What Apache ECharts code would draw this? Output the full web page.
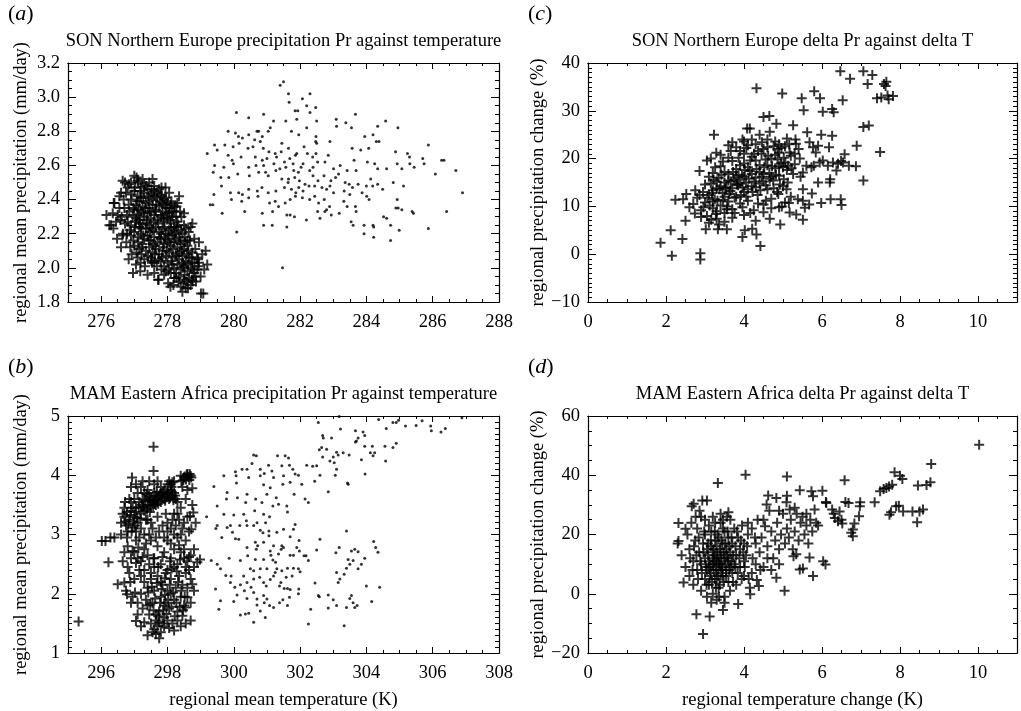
<!DOCTYPE html>
<html lang="en">
  <head>
    <meta charset="UTF-8" />
    <title>regional precipitation against temperature</title>
    <script src="https://cdn.jsdelivr.net/npm/echarts@6/dist/echarts.min.js"></script>
    <style>
      html, body { margin: 0; background: #fff; }
      #main { width: 1021px; height: 711px; }
    </style>
  </head>
  <body>
    <div id="main"></div>
    <script>
      // (a) SON Northern Europe: Pr against T, crosses and dots
      var sonTempCross = [
        [276.72,2.5],[276.84,2.49],[277.07,2.53],[277.1,2.51],[276.16,2.31],[276.25,2.25],[276.37,2.23],[276.38,2.38],
        [276.64,2.19],[276.6,2.44],[276.76,2.15],[276.96,1.97],[277.19,2.03],[277.32,2.01],[277.53,2.03],[277.72,1.93],
        [277.94,2.47],[278.09,1.89],[278.27,1.94],[278.35,2.42],[278.27,2.36],[278.42,2.3],[278.45,1.86],[278.58,1.92],
        [278.6,2.16],[278.81,2.17],[278.84,2.11],[278.89,2.06],[279.11,1.99],[278.76,1.92],[278.86,1.92],[279.08,1.85],
        [278.64,2.21],[277.17,2.26],[276.3,2.25],[276.4,2.38],[276.65,2.51],[277.0,2.54],[279.01,1.85],[277.73,1.93],
        [277.0,2.45],[277.1,2.42],[277.2,2.47],[277.3,2.44],[277.4,2.46],[277.5,2.43],[277.6,2.45],[277.7,2.41],
        [277.8,2.43],[277.9,2.4],[278.0,2.38],[278.1,2.37],[276.9,2.4],[277.05,2.37],[277.15,2.39],[277.25,2.36],
        [277.35,2.38],[277.45,2.35],[277.55,2.37],[277.65,2.34],[277.75,2.36],[277.85,2.33],[277.95,2.35],[278.05,2.32],
        [278.15,2.3],[276.85,2.33],[276.95,2.3],[277.0,2.34],[277.1,2.31],[277.2,2.33],[277.3,2.3],[277.4,2.32],
        [277.5,2.29],[277.6,2.31],[277.7,2.28],[277.8,2.3],[277.9,2.27],[278.0,2.29],[278.1,2.26],[278.2,2.24],
        [278.3,2.27],[276.8,2.27],[276.9,2.25],[277.05,2.27],[277.15,2.24],[277.25,2.26],[277.35,2.23],[277.45,2.25],
        [277.55,2.22],[277.65,2.24],[277.75,2.21],[277.85,2.23],[277.95,2.2],[278.05,2.22],[278.15,2.19],[278.25,2.21],
        [278.35,2.18],[278.45,2.2],[276.9,2.19],[277.0,2.21],[277.1,2.18],[277.2,2.2],[277.3,2.17],[277.4,2.19],
        [277.5,2.16],[277.6,2.18],[277.7,2.15],[277.8,2.17],[277.9,2.14],[278.0,2.16],[278.1,2.13],[278.2,2.15],
        [278.3,2.12],[278.4,2.14],[278.5,2.11],[278.6,2.13],[277.0,2.13],[277.15,2.11],[277.25,2.14],[277.35,2.1],
        [277.45,2.12],[277.55,2.09],[277.65,2.11],[277.75,2.08],[277.85,2.1],[277.95,2.07],[278.05,2.09],[278.15,2.06],
        [278.25,2.08],[278.35,2.05],[278.45,2.07],[278.55,2.04],[278.65,2.06],[278.75,2.03],[277.1,2.06],[277.3,2.05],
        [277.5,2.06],[277.6,2.03],[277.8,2.04],[277.9,2.01],[278.0,2.03],[278.2,2.0],[278.3,2.02],[278.4,1.99],
        [278.5,2.01],[278.6,1.98],[278.7,2.0],[278.8,1.97],[278.9,1.99],[277.9,1.96],[278.1,1.97],[278.2,1.94],
        [278.35,1.95],[278.5,1.93],[278.65,1.94],[278.7,1.9],[278.55,1.88],[277.3,2.49],[277.45,2.5],[277.6,2.48],
        [277.75,2.46],[277.2,2.41],[277.55,2.4],[277.85,2.38],[278.2,2.33],[278.5,2.25],[278.7,2.24],[278.75,2.09],
        [278.95,2.03],
        [277.02,2.47],[277.18,2.45],[277.36,2.48],[277.52,2.46],[277.68,2.44],[277.12,2.5],[277.44,2.42],[277.83,2.42],
        [276.92,2.43],[277.08,2.39],[277.27,2.41],[277.42,2.39],[277.61,2.42],[277.78,2.39],[277.96,2.41],[278.12,2.39],
        [276.83,2.37],[277.33,2.35],[277.66,2.37],[277.92,2.37],[278.06,2.35],[278.22,2.36],[276.78,2.31],[276.97,2.35],
        [277.13,2.34],[277.28,2.32],[277.47,2.33],[277.63,2.33],[277.82,2.31],[277.98,2.32],[278.14,2.33],[278.26,2.3],
        [278.38,2.33],[277.06,2.29],[277.37,2.28],[277.58,2.27],[277.88,2.29],[278.08,2.28],[278.33,2.25],[276.86,2.22],
        [277.02,2.24],[277.21,2.23],[277.38,2.26],[277.52,2.23],[277.72,2.26],[277.91,2.24],[278.11,2.23],[278.28,2.24],
        [278.41,2.22],[278.55,2.23],[277.14,2.28],[277.47,2.21],[277.81,2.2],[278.02,2.19],[278.2,2.2],[278.52,2.18],
        [276.97,2.16],[277.12,2.15],[277.27,2.19],[277.44,2.16],[277.63,2.13],[277.76,2.18],[277.93,2.17],[278.07,2.15],
        [278.24,2.17],[278.38,2.16],[278.53,2.15],[278.68,2.16],[277.22,2.12],[277.57,2.14],[277.87,2.12],[278.16,2.11],
        [278.44,2.1],[278.63,2.1],[277.07,2.09],[277.22,2.08],[277.41,2.07],[277.62,2.08],[277.73,2.05],[277.98,2.1],
        [278.12,2.04],[278.28,2.07],[278.46,2.03],[278.58,2.08],[278.72,2.06],[278.82,2.03],[277.52,2.04],[277.84,2.06],
        [278.36,2.09],[278.92,2.05],[277.68,2.01],[277.82,1.99],[278.04,1.99],[278.15,2.02],[278.26,1.97],[278.45,2.0],
        [278.62,2.02],[278.76,1.99],[278.93,2.01],[277.95,1.98],[278.33,1.92],[278.52,1.96],[278.84,1.95],[278.02,1.91],
        [278.18,1.9],[278.4,1.89],[278.62,1.88],[278.48,1.91],[278.74,1.93],
        [276.55,2.35],[276.62,2.3],[276.68,2.4],[276.72,2.26],[276.58,2.28],[276.75,2.44],[276.66,2.2],[276.8,2.47],
        [276.5,2.31],[276.45,2.27],[276.7,2.35],[276.78,2.2],[276.88,2.12],[276.83,2.05],[276.92,2.08],[277.05,2.02],
        [277.18,1.98],[277.4,1.96],[277.6,1.97],[276.55,2.42],[276.9,2.5],[277.25,2.52],[277.55,2.52],[277.82,2.47],
        [278.05,2.44],[278.3,2.38],[278.5,2.32],[278.75,2.26],[278.95,2.15],[279.05,2.08],[279.15,2.1],[279.2,2.02],
        [279.0,1.95],[276.35,2.32],[276.48,2.17],[276.6,2.12]
      ];
      var sonTempDots = [
        [281.4,3.07],[281.5,3.09],[281.65,3.02],[281.67,2.97],[282.07,2.99],[282.3,3.02],[282.2,2.95],[282.47,2.94],
        [281.93,2.92],[281.85,2.92],[280.08,2.91],[280.9,2.9],[280.45,2.88],[283.67,2.9],[283.09,2.87],[282.3,2.91],
        [281.2,2.86],[281.57,2.86],[281.9,2.87],[284.58,2.86],[282.5,2.86],[283.38,2.85],[283.55,2.82],[283.1,2.83],
        [284.34,2.83],[284.95,2.82],[281.1,2.82],[280.7,2.8],[281.04,2.8],[280.75,2.8],[279.83,2.8],[280.05,2.79],
        [282.2,2.82],[281.96,2.78],[281.74,2.8],[282.48,2.77],[283.95,2.77],[284.2,2.78],[280.14,2.77],[280.26,2.76],
        [280.45,2.78],[280.63,2.75],[280.86,2.77],[280.8,2.74],[280.16,2.73],[279.42,2.72],[279.73,2.72],[279.98,2.71],
        [281.45,2.73],[281.65,2.7],[282.12,2.71],[282.47,2.74],[282.5,2.73],[282.9,2.74],[283.57,2.7],[283.83,2.69],
        [284.07,2.7],[284.3,2.74],[284.38,2.74],[285.87,2.72],[279.2,2.67],[279.5,2.69],[280.43,2.7],[280.58,2.71],
        [280.89,2.7],[281.06,2.68],[281.25,2.67],[281.29,2.65],[281.43,2.68],[281.86,2.66],[281.9,2.67],[282.48,2.67],
        [282.22,2.67],[282.38,2.65],[282.85,2.66],[285.24,2.67],[285.3,2.65],[284.88,2.68],[279.83,2.66],[279.95,2.63],
        [280.22,2.65],[280.65,2.65],[280.86,2.63],[281.0,2.64],[281.53,2.62],[281.69,2.64],[281.79,2.61],[282.09,2.61],
        [282.53,2.62],[282.75,2.62],[283.63,2.63],[284.03,2.62],[285.7,2.64],[286.27,2.63],[286.34,2.63],[285.74,2.61],
        [284.25,2.61],[284.93,2.61],[285.31,2.61],[279.42,2.6],[279.7,2.59],[279.99,2.61],[280.45,2.59],[280.67,2.6],
        [280.9,2.6],[281.21,2.61],[281.39,2.58],[281.57,2.59],[281.81,2.57],[281.95,2.56],[282.03,2.59],[282.29,2.57],
        [282.39,2.59],[283.01,2.58],[283.21,2.6],[283.42,2.57],[283.69,2.57],[284.34,2.58],[284.61,2.58],[285.07,2.58],
        [285.44,2.59],[286.08,2.55],[286.7,2.57],[286.9,2.44],[279.38,2.56],[279.61,2.53],[279.85,2.53],[280.12,2.55],
        [280.47,2.54],[280.75,2.56],[280.96,2.56],[281.04,2.54],[281.27,2.57],[281.45,2.52],[281.65,2.52],[281.84,2.53],
        [281.98,2.51],[282.15,2.49],[282.39,2.54],[282.54,2.51],[282.72,2.54],[282.93,2.51],[283.07,2.53],[283.16,2.55],
        [283.36,2.5],[283.48,2.49],[283.75,2.49],[284.0,2.48],[284.13,2.52],[284.34,2.49],[284.49,2.46],[284.81,2.5],
        [285.12,2.48],[279.4,2.43],[279.37,2.37],[279.29,2.37],[279.63,2.48],[279.9,2.44],[280.15,2.44],[280.26,2.43],
        [280.45,2.46],[280.71,2.45],[280.85,2.47],[281.04,2.44],[281.27,2.45],[281.53,2.47],[281.64,2.5],[281.74,2.46],
        [281.87,2.44],[281.96,2.47],[282.09,2.45],[282.27,2.48],[282.44,2.48],[282.66,2.47],[282.8,2.46],[282.9,2.48],
        [283.01,2.44],[283.33,2.45],[283.5,2.43],[283.58,2.47],[283.87,2.44],[284.01,2.42],[284.08,2.4],[284.19,2.48],
        [284.93,2.4],[279.93,2.4],[280.24,2.39],[280.45,2.41],[280.73,2.42],[281.08,2.38],[281.25,2.39],[281.35,2.36],
        [281.55,2.38],[281.7,2.4],[281.86,2.42],[282.07,2.41],[282.29,2.4],[282.44,2.42],[282.56,2.38],[282.73,2.4],
        [282.89,2.36],[283.32,2.39],[283.42,2.36],[283.67,2.36],[284.89,2.35],[284.96,2.35],[285.07,2.34],[285.38,2.33],
        [285.42,2.32],[279.65,2.32],[280.33,2.33],[280.86,2.32],[281.17,2.33],[281.6,2.31],[281.7,2.31],[281.83,2.3],
        [282.19,2.28],[282.53,2.33],[282.75,2.33],[282.8,2.34],[282.6,2.29],[282.94,2.31],[283.18,2.32],[283.69,2.33],
        [284.52,2.3],[284.61,2.29],[286.42,2.33],[283.54,2.27],[283.6,2.25],[280.9,2.25],[281.16,2.25],[281.6,2.24],
        [283.93,2.25],[284.2,2.25],[284.22,2.24],[284.73,2.25],[284.99,2.22],[285.87,2.23],[280.09,2.21],[283.93,2.2],
        [284.22,2.18],[284.73,2.16],[281.47,2.0]
      ];

      // (c) SON Northern Europe: delta Pr against delta T
      var sonDeltaCross = [
        [1.86,2.4],[2.12,5.0],[2.15,-0.3],[2.42,3.2],[2.24,11.4],[2.44,11.5],[2.52,12.6],[2.5,7.0],[2.74,8.5],[2.88,0.2],
        [2.88,-1.1],[2.86,17.4],[3.23,25],[3.29,21.2],[3.15,20],[4.32,34.7],[4.98,33.6],[5.48,32.6],[5.53,30.1],[5.8,34.1],
        [5.95,32.6],[6.02,29.8],[6.26,30.4],[6.3,29.7],[6.53,32.2],[6.47,38.3],[6.72,36.7],[7.06,38.3],[7.17,35.6],[7.29,37.5],
        [7.41,32.6],[7.52,32.8],[7.59,35.6],[7.65,36.1],[7.63,35.2],[7.68,33.2],[7.82,33.1],[7.71,32.4],[7.06,26.6],[7.2,26.9],
        [7.49,21.4],[7.06,15.4],[6.87,18.4],[6.89,22.7],[6.69,18.5],[6.58,20.9],[6.49,19.5],[6.48,11.5],[6.5,10.3],[6.22,11.5],
        [6.21,15.7],[6.26,24.8],[6.18,22.4],[5.98,25.0],[5.94,19.2],[5.9,15.0],[5.98,10.7],[5.67,10.4],[5.74,12.7],[5.51,7.2],
        [5.56,9.7],[5.51,13.6],[5.62,25.5],[5.33,23.1],[5.26,27.0],[5.15,10.7],[5.34,8.3],[4.93,6.2],[4.97,10.0],[4.66,7.4],
        [4.83,27.3],[4.65,28.9],[4.5,28.7],[4.15,26.3],[4.08,26.3],[4.42,1.7],[4.32,4.1],[4.21,5.3],[4.02,5.0],[3.96,3.6],
        [3.56,5.2],[3.33,5.2],[3.02,5.2],[5.32,24],[5.68,23.4],[5.77,22.4],[5.84,21.3],[5.9,22.7],[5.51,17.1],[5.6,18.5],
        [5.73,18.2],[5.79,18.5],[6.02,19.6],[6.15,18.5],[6.28,19.2],[6.37,17.5],[6.41,18.9],[6.54,19.2],[5.43,20],[5.38,11.5],
        [5.51,11.2],[5.0,18.2],[5.13,18.5],[5.17,21.3],[5.02,15.7],[5.09,13.6],[4.88,12.6],[4.9,9.8],[5.05,10.8],[5.17,8.7],
        [6.2,15],[2.7,10.5],[2.8,11.8],[2.9,9.2],[2.95,13.0],[3.0,10.8],[3.05,8.0],[3.1,12.4],[3.15,14.8],[3.2,9.6],
        [3.2,17.0],[3.25,11.5],[3.3,13.8],[3.3,7.4],[3.35,16.0],[3.4,10.2],[3.4,18.4],[3.45,12.8],[3.5,15.0],[3.5,8.6],
        [3.55,14.0],[3.6,11.0],[3.6,16.8],[3.65,13.2],[3.7,19.5],[3.7,9.4],[3.75,15.6],[3.8,12.0],[3.8,17.8],[3.85,14.4],
        [3.9,21.6],[3.9,10.6],[3.95,16.4],[4.0,13.0],[4.0,19.0],[4.05,15.0],[4.1,22.8],[4.1,11.2],[4.15,17.4],[4.2,14.2],
        [4.2,20.4],[4.25,9.2],[4.3,16.0],[4.3,23.0],[4.35,12.4],[4.4,18.6],[4.4,14.8],[4.45,21.0],[4.5,10.4],[4.5,16.8],
        [4.55,19.8],[4.6,13.6],[4.6,22.4],[4.65,17.0],[4.7,11.6],[4.7,20.0],[4.75,15.4],[4.8,23.6],[4.8,18.0],[4.85,13.0],
        [4.9,21.2],[4.9,16.4],[4.95,19.0],[5.0,14.2],[5.05,22.6],[5.1,17.6],[5.2,20.6],[5.2,12.0],[5.3,18.8],[5.4,22.0],
        [5.45,16.2],[3.0,14.6],[3.1,16.2],[3.2,13.4],[3.3,15.2],[3.4,14.2],[3.5,12.0],[3.5,17.2],[3.6,15.4],[3.7,13.8],
        [3.8,16.0],[3.9,14.8],[3.9,18.6],[4.0,16.2],[4.0,21.0],[4.1,13.6],[4.1,18.2],[4.2,16.8],[4.3,14.0],[4.3,19.6],
        [4.4,17.2],[4.5,15.2],[4.5,22.0],[4.6,18.6],[4.7,16.2],[4.8,20.8],[4.9,18.4],[3.6,20.2],[3.8,22.4],[4.0,23.6],
        [4.2,24.0],[4.4,25.0],[3.3,9.0],[3.5,6.8],[3.7,7.6],[4.0,8.2],[4.3,7.0],[4.5,8.8],[4.7,9.6],[3.1,6.6],
        [2.9,7.8],[3.2,11.0],[2.6,9.8],[2.75,13.4],[3.05,19.6],[3.4,20.8],[3.6,22.8],[3.7,23.4],[4.6,24.0],[4.9,23.0],
        [5.1,24.2],[5.3,21.0],
        [3.12,10.2],[3.18,12.8],[3.22,15.6],[3.28,8.4],[3.32,11.2],[3.37,13.6],[3.42,16.6],[3.46,11.4],[3.52,13.8],[3.57,10.0],
        [3.62,12.6],[3.66,15.2],[3.72,17.2],[3.76,11.8],[3.82,14.6],[3.86,16.6],[3.92,12.4],[3.96,14.0],[4.02,17.6],[4.06,12.0],
        [4.12,15.8],[4.16,19.6],[4.22,13.0],[4.26,15.2],[4.32,17.8],[4.36,21.6],[4.42,13.4],[4.46,16.2],[4.52,18.2],[4.56,14.4],
        [4.62,20.6],[4.66,15.8],[4.72,18.4],[4.76,22.6],[4.82,16.6],[4.86,19.8],[4.92,14.6],[4.96,22.2],[5.02,20.2],[5.12,15.0],
        [5.22,18.0],[3.46,19.4],[3.66,21.6],[3.86,20.2],[4.06,22.2],[4.26,21.0],[3.16,7.2],[3.36,6.2],[3.56,9.4],[3.76,8.6],
        [3.96,9.8],[4.16,8.6],[4.36,10.6],[4.56,11.2],[4.76,13.8],[3.26,18.2],[3.06,11.8],[2.96,9.8],[2.86,12.4],[3.96,24.0],
        [4.46,23.4],[4.66,25.6],[4.86,22.0],[5.06,19.2],[5.16,23.0],[5.26,16.8]
      ];

      // (b) MAM Eastern Africa: Pr against T, crosses and dots
      var mamTempCross = [
        [295.32,1.53],[296.22,2.53],[296.02,2.89],[296.13,2.89],[296.28,2.95],[296.4,2.95],[296.5,2.16],[296.7,2.19],
        [296.78,1.99],[297.05,1.54],[297.58,4.48],[297.58,4.07],[296.93,3.96],[297.25,3.9],[298.05,3.9],[298.15,3.88],
        [298.4,3.99],[298.5,3.96],[298.6,4.02],[298.7,3.99],[298.75,3.78],[298.68,3.31],[298.72,3.09],[298.78,3.37],
        [298.98,2.58],[298.9,2.53],[298.75,2.16],[298.6,1.94],[298.55,1.77],[298.45,1.63],[298.2,1.38],[297.65,1.32],
        [297.4,1.3],[297.3,1.52],[296.7,3.3],[296.75,3.15],[296.8,3.05],[296.85,3.25],[296.9,3.4],[296.95,3.12],
        [297.0,3.3],[297.05,3.45],[297.1,3.2],[297.15,3.55],[297.2,3.35],[297.25,3.6],[297.3,3.4],[297.35,3.25],
        [297.4,3.5],[297.45,3.65],[297.5,3.45],[297.55,3.55],[297.6,3.7],[297.65,3.5],[297.7,3.6],[297.75,3.65],
        [297.8,3.55],[297.85,3.7],[297.9,3.6],[297.95,3.65],[298.0,3.7],[298.05,3.6],[298.1,3.75],[298.15,3.65],
        [298.2,3.7],[298.25,3.6],[298.3,3.55],[298.0,3.85],[297.8,3.8],[297.2,3.8],[297.1,3.7],[297.0,3.6],
        [296.9,3.8],[297.3,3.0],[297.5,3.2],[297.7,3.3],[296.8,2.8],[296.9,3.55],[297.4,3.75],[298.4,3.45],
        [298.2,3.35],[298.6,3.3],[298.55,3.6],[298.45,3.8],[297.05,2.9],[296.7,3.45],[296.6,3.0],[296.6,3.2],
        [297.0,2.7],[297.1,2.6],[297.2,2.55],[297.3,2.75],[297.4,2.65],[297.5,2.9],[297.6,2.6],[297.7,2.8],
        [297.8,2.5],[297.9,2.7],[298.0,2.9],[298.1,2.6],[298.2,2.75],[298.3,2.5],[298.4,2.7],[298.5,2.6],
        [298.6,2.55],[298.7,2.65],[298.8,2.45],[297.15,2.95],[297.45,3.0],[297.75,3.05],[298.0,3.05],[298.3,2.95],
        [296.9,2.6],[296.8,2.45],[297.2,2.3],[297.5,2.35],[297.9,2.95],[298.2,3.0],[297.2,2.0],[297.25,1.75],
        [297.3,2.2],[297.35,1.9],[297.4,2.1],[297.45,1.65],[297.5,2.25],[297.55,1.85],[297.6,2.05],[297.65,1.55],
        [297.7,2.3],[297.75,1.7],[297.8,1.95],[297.85,2.15],[297.9,1.6],[297.95,1.85],[298.0,2.4],[298.0,2.05],
        [298.05,1.75],[298.1,2.25],[298.15,1.5],[298.2,1.9],[298.25,2.1],[298.3,1.7],[298.35,2.3],[298.4,1.95],
        [298.45,2.15],[298.5,1.8],[298.55,2.35],[298.6,2.1],[297.6,1.4],[297.8,1.35],[297.7,1.45],[297.9,1.8],
        [298.0,1.55],[297.5,1.5],[297.4,1.8],[297.3,2.4],[297.6,2.45],[297.8,2.2],[298.1,2.0],[298.2,2.45],
        [298.3,1.55],[298.4,1.45],[297.75,1.25],[297.0,2.25],[296.95,1.95],[297.1,1.85],[298.65,2.4],[298.7,1.85],
        [297.85,1.5],[297.95,2.35],
        [296.82,3.18],[296.88,3.33],[296.98,3.22],[297.03,3.38],[297.08,3.28],[297.13,3.46],[297.18,3.27],[297.22,3.5],
        [297.28,3.47],[297.33,3.58],[297.38,3.42],[297.43,3.56],[297.47,3.38],[297.52,3.62],[297.57,3.48],[297.62,3.58],
        [297.67,3.66],[297.72,3.52],[297.78,3.68],[297.83,3.62],[297.88,3.72],[297.93,3.57],[297.98,3.63],[298.03,3.68],
        [298.08,3.62],[298.13,3.72],[298.18,3.58],[298.23,3.66],[297.68,3.72],[297.92,3.76],[298.12,3.8],[297.48,3.58],
        [297.25,3.45],[297.02,3.15],[296.73,3.22],[296.78,3.38],[296.92,3.05],[297.37,3.68],[297.6,3.52],
        [298.52,3.98],[298.58,4.01],[298.63,3.97],[298.67,4.02],[298.72,3.96],[298.56,3.93],[298.66,3.92],[298.48,3.92],
        [298.42,3.9],[298.2,3.9],[298.1,3.85],
        [297.42,2.02],[297.48,1.82],[297.53,2.12],[297.58,1.72],[297.63,1.92],[297.68,2.18],[297.72,1.62],[297.78,1.85],
        [297.82,2.08],[297.87,1.72],[297.92,1.98],[297.97,1.66],[298.02,1.9],[298.07,2.15],[298.12,1.78],[298.17,2.02],
        [298.22,1.62],[298.27,1.85],[298.32,2.2],[298.37,1.78],[298.42,2.05],[298.47,1.72],[298.52,1.95],[298.28,2.38],
        [298.12,2.42],[297.92,2.26],[297.72,2.45],[297.58,2.6],[297.85,2.62],[298.08,2.55],[298.38,2.58],[298.55,2.45],
        [298.65,2.62],[297.65,1.65],[297.75,1.52],[297.9,1.45],[298.05,1.42],[297.55,1.35],
        [296.95,2.72],[297.05,2.52],[297.12,2.78],[297.25,2.62],[297.35,2.85],[297.45,2.5],[297.02,2.02],[297.15,2.4],
        [296.88,2.2],
        [298.1,3.1],[298.25,3.15],[298.35,3.25],[298.45,3.1],[298.5,3.2],[298.3,3.35],[298.15,3.25],[298.0,3.2],
        [297.85,3.15],[297.95,3.35],[298.4,3.0],[298.55,2.9],[298.65,3.05],[298.5,2.75],[298.35,2.82],[298.1,2.85],
        [297.65,2.95],[297.55,3.1],[297.4,3.25],[297.2,3.1],[297.05,3.05],[296.95,3.45],[296.85,3.6],[296.72,3.55],
        [296.65,3.35],[296.78,2.95],[296.7,2.7],[296.65,2.55],[296.85,2.35],[296.75,2.05],[296.9,1.85],[297.1,1.65],
        [297.2,1.45],[298.7,2.25],[298.8,2.05],[298.7,1.55],[298.55,1.5],[298.8,2.75],[298.85,3.2],[298.75,3.5],
        [298.6,3.75],[297.7,3.9],[297.45,3.9],[297.6,3.85],[297.3,3.7],[297.05,3.85]
      ];
      var mamTempDots = [
        [302.55,4.89],[303.18,4.99],[304.37,4.94],[304.6,4.79],[304.8,4.89],[304.9,4.89],[304.97,4.93],[305.18,4.83],
        [305.5,4.84],[305.68,4.92],[305.94,4.83],[305.96,4.75],[306.25,4.73],[306.38,4.79],[306.88,4.97],[304.8,4.47],
        [304.56,4.49],[304.9,4.54],[304.58,4.24],[303.95,4.67],[303.9,4.73],[303.75,4.63],[303.67,4.75],[303.7,4.58],
        [303.22,4.78],[302.68,4.67],[302.7,4.63],[302.95,4.63],[302.65,4.47],[302.8,4.44],[302.58,4.43],[303.1,4.39],
        [303.15,4.34],[303.3,4.38],[303.48,4.34],[303.67,4.56],[303.95,4.49],[304.12,4.38],[304.18,4.49],[304.2,4.33],
        [304.25,4.38],[303.85,4.26],[303.0,4.31],[302.9,4.24],[302.68,4.31],[302.5,4.16],[302.38,4.15],[302.2,4.17],
        [302.6,4.0],[303.03,4.21],[303.1,4.1],[303.06,4.0],[303.96,4.02],[302.44,3.9],[302.85,3.72],[303.43,3.87],
        [302.15,3.6],[302.25,3.54],[301.68,4.17],[301.55,4.33],[301.65,4.29],[301.32,4.33],[301.05,4.17],[301.15,4.07],
        [301.45,4.16],[301.78,4.1],[301.85,4.02],[301.95,4.0],[302.05,3.85],[301.82,3.68],[300.6,4.34],[300.68,4.33],
        [300.55,4.2],[300.4,4.1],[300.25,4.1],[300.8,4.1],[300.05,4.06],[300.07,3.99],[299.7,3.99],[299.4,3.81],
        [300.08,3.87],[300.45,3.96],[300.8,3.99],[300.92,4.03],[301.2,3.96],[301.5,3.99],[301.48,3.85],[301.7,3.88],
        [300.9,3.84],[301.1,3.79],[301.0,3.68],[301.28,3.62],[301.35,3.51],[301.62,3.38],[301.6,3.48],[301.18,3.48],
        [300.85,3.54],[300.66,3.6],[300.4,3.68],[300.36,3.54],[300.11,3.62],[299.8,3.71],[299.78,3.6],[299.5,3.48],
        [299.7,3.34],[300.0,3.33],[300.3,3.34],[300.63,3.4],[300.9,3.34],[301.08,3.3],[300.38,3.23],[300.7,3.2],
        [300.96,3.2],[300.6,3.15],[300.4,3.15],[300.18,3.15],[299.9,3.15],[299.8,3.12],[299.5,3.15],[299.46,3.1],
        [299.18,3.3],[299.96,3.04],[300.05,2.93],[300.15,2.92],[299.64,2.95],[300.8,3.07],[301.06,3.06],[300.88,3.03],
        [301.06,2.98],[301.3,3.04],[301.5,3.09],[301.8,3.09],[301.85,3.17],[301.97,2.9],[301.7,2.96],[300.65,2.87],
        [300.72,2.81],[300.9,2.87],[300.4,2.78],[300.68,2.75],[301.2,2.81],[301.45,2.81],[301.43,2.75],[301.5,2.78],
        [301.7,2.65],[301.8,2.65],[301.98,2.72],[302.12,2.64],[302.18,2.64],[302.25,2.56],[301.9,2.78],[301.1,2.72],
        [301.12,2.65],[301.35,2.67],[299.86,2.6],[300.42,2.64],[300.65,2.58],[300.9,2.58],[301.18,2.57],[301.26,2.53],
        [299.32,2.56],[299.5,2.5],[299.6,2.42],[300.2,2.56],[300.5,2.42],[300.6,2.39],[300.8,2.42],[301.0,2.42],
        [301.25,2.36],[301.3,2.42],[301.45,2.39],[301.62,2.43],[301.8,2.43],[301.95,2.42],[302.0,2.37],[301.76,2.3],
        [301.58,2.28],[301.42,2.19],[301.38,2.13],[301.52,2.09],[301.62,2.09],[301.7,2.07],[301.96,2.08],[301.95,2.0],
        [301.68,1.94],[301.48,1.9],[301.38,1.85],[300.98,2.13],[300.9,2.19],[301.1,2.24],[301.2,2.3],[300.78,2.28],
        [300.6,2.25],[300.3,2.3],[299.92,2.3],[299.76,2.31],[299.9,2.19],[300.2,2.15],[300.4,2.19],[300.52,2.11],
        [300.32,2.05],[300.03,2.11],[299.45,2.08],[299.6,1.88],[299.55,1.74],[300.0,1.87],[300.1,1.98],[300.4,1.92],
        [300.6,2.02],[300.7,1.91],[300.9,1.97],[301.0,1.91],[300.92,1.85],[301.08,1.8],[301.2,1.77],[300.95,1.6],
        [300.7,1.81],[300.6,1.52],[300.35,1.66],[300.2,1.64],[300.45,1.67],[300.8,1.71],[301.62,1.8],[302.32,1.74],
        [302.25,1.49],[302.45,2.18],[302.85,1.98],[303.0,1.9],[302.58,1.95],[303.1,1.8],[302.85,1.76],[303.33,1.46],
        [303.5,1.92],[303.55,1.97],[303.6,1.85],[303.4,1.77],[303.65,1.77],[303.72,1.8],[304.16,1.87],[304.0,2.13],
        [304.4,2.11],[303.2,2.25],[303.1,2.36],[303.15,2.19],[303.33,2.33],[303.4,2.43],[303.5,2.5],[303.45,2.58],
        [303.6,2.56],[303.75,2.42],[303.85,2.5],[303.95,2.6],[303.55,2.72],[303.65,2.75],[303.75,2.71],[303.18,2.78],
        [303.08,2.69],[304.22,2.88],[304.28,2.78],[304.35,2.7],[303.4,3.06],[303.45,3.85],[302.6,2.92],[302.5,2.74],
        [302.55,1.97]
      ];

      // (d) MAM Eastern Africa: delta Pr against delta T
      var mamDeltaCross = [
        [10.03,50.3],[8.8,43.8],[8.78,37.6],[8.68,36.7],[8.46,36.5],[8.44,24.1],[8.59,28.4],[8.5,27.8],[8.32,27.8],
        [8.08,27.8],[7.97,29.7],[7.9,29.5],[7.77,27.5],[7.73,26.7],[7.86,41.0],[8.0,39.8],[8.06,38.7],[7.8,36.8],
        [7.58,35.4],[7.65,35.7],[7.72,36.2],[7.49,34.6],[7.35,30.9],[6.98,30.9],[6.97,29.5],[6.95,26.2],[6.83,23.7],
        [6.79,21.7],[6.75,20.6],[6.79,19.4],[6.68,30.6],[6.58,38.3],[6.45,27.8],[6.52,23.7],[6.41,24.5],[6.33,25.6],
        [6.26,28.4],[6.11,30.6],[6.01,34.8],[5.81,28.4],[5.73,34.6],[5.77,32.9],[5.43,34.9],[5.1,39.6],[5.1,33.1],
        [5.09,30.9],[5.17,28.4],[5.04,1.0],[4.62,33.2],[4.83,32.3],[4.58,30.1],[4.54,22.8],[4.04,40.2],[3.33,37.4],
        [3.05,31.5],[2.93,31.5],[2.71,30.4],[2.66,29.5],[2.32,23.9],[2.32,17.8],[2.5,21.9],[2.45,3.8],[2.78,-6.9],
        [3.12,-7.7],[2.95,-13.6],[3.46,-5.5],[3.85,-3.5],[4.16,-0.2],[4.38,2.6],[4.33,4.6],[4.83,5.4],[5.43,8.2],
        [5.51,8.5],[5.77,6.0],[5.68,12.2],[6.03,11.0],[6.09,9.9],[5.34,13.3],[5.27,12.7],[4.2,22],[4.3,17],
        [4.4,14],[4.45,19],[4.5,25],[4.6,16],[4.7,21],[4.75,12],[4.8,18],[4.85,24],[4.9,15],[4.95,20],[5.0,27],
        [5.05,17],[5.1,22],[5.15,19],[5.2,25],[5.25,15],[5.3,21],[5.35,27],[5.4,18],[5.45,24],[5.5,26],[5.55,20],
        [5.6,23],[5.65,17],[5.7,25],[5.75,21],[5.85,24],[4.3,10],[4.5,9],[4.7,8],[4.9,10],[4.6,12],[4.2,7],
        [4.0,11],[4.1,24],[4.35,25],[4.65,28],[4.9,28],[5.3,29],[5.6,27],[5.9,23],[6.1,31],[6.3,27],[6.5,25],
        [6.6,31],[2.3,17],[2.4,13],[2.5,9],[2.55,20],[2.6,6],[2.6,15],[2.65,24],[2.7,11],[2.7,3],[2.75,18],
        [2.8,8],[2.8,22],[2.85,14],[2.9,1],[2.9,10],[2.95,17],[3.0,5],[3.0,20],[3.0,12],[3.05,8],[3.05,15],
        [3.1,23],[3.1,3],[3.1,11],[3.15,18],[3.15,7],[3.2,14],[3.2,0],[3.2,10],[3.25,21],[3.25,5],[3.3,16],
        [3.3,12],[3.3,8],[3.35,2],[3.35,19],[3.4,14],[3.4,24],[3.4,10],[3.45,6],[3.45,17],[3.5,12],[3.5,21],
        [3.5,-1],[3.55,8],[3.55,15],[3.6,19],[3.6,4],[3.6,11],[3.65,25],[3.65,14],[3.7,7],[3.7,17],[3.75,22],
        [3.75,10],[3.8,13],[3.8,3],[3.85,19],[3.9,9],[3.9,15],[3.95,23],[4.0,6],[4.0,17],[4.05,13],[4.1,20],
        [4.15,2],[3.2,26],[3.4,27],[3.6,27.5],[3.3,-2],[3.5,-3],[3.0,25],[2.9,26],[3.05,-1],[3.15,16],[3.25,13],
        [3.35,11],[3.45,9],[3.55,13],[3.65,9],[3.1,9],[3.2,12],[3.3,5],[3.4,7],
        [2.62,12],[2.68,8],[2.72,16],[2.78,13],[2.82,5],[2.84,19],[2.88,11],[2.92,7],[2.96,14],[2.98,21],[3.02,9],
        [3.04,3],[3.08,13],[3.08,17],[3.12,6],[3.14,10],[3.16,21],[3.18,4],[3.22,8],[3.22,15],[3.24,11],[3.26,18],
        [3.28,2],[3.28,9],[3.32,13],[3.32,20],[3.34,6],[3.36,10],[3.38,15],[3.38,3],[3.42,12],[3.42,18],[3.44,8],
        [3.46,22],[3.48,14],[3.48,4],[3.52,10],[3.52,17],[3.54,6],[3.58,12],[3.58,21],[3.62,8],[3.62,16],[3.64,1],
        [3.68,11],[3.68,19],[3.72,13],[3.72,4],[3.78,9],[3.78,16],[3.82,21],[3.84,7],[3.88,12],[3.92,18],[3.94,5],
        [3.98,14],[4.02,9],[4.08,16],[4.12,5],[4.22,12],[4.28,19],[4.42,8],[3.26,24],[3.46,25],[3.16,-3],[3.36,-1],
        [2.76,26],[2.86,28],[3.56,26]
      ];

      var serif = '"Liberation Serif", "Times New Roman", serif';
      var crossPath = 'path://M4,0H6V4H10V6H6V10H4V6H0V4H4Z';

      var panels = [
        { tag: 'a', title: 'SON Northern Europe precipitation Pr against temperature',
          grid: { left: 68, top: 63, width: 431, height: 239 },
          x: [275, 288], y: [1.8, 3.2, 0.2, 4], yDigits: 1,
          yName: 'regional mean precipitation (mm/day)', xName: '',
          cross: sonTempCross, dots: sonTempDots },
        { tag: 'c', title: 'SON Northern Europe delta Pr against delta T',
          grid: { left: 588, top: 63, width: 429, height: 239 },
          x: [0, 11], y: [-10, 40, 10, 10], yDigits: 0,
          yName: 'regional precipitation change (%)', xName: '',
          cross: sonDeltaCross, dots: null },
        { tag: 'b', title: 'MAM Eastern Africa precipitation Pr against temperature',
          grid: { left: 68, top: 416, width: 431, height: 238 },
          x: [295, 308], y: [1, 5, 1, 10], yDigits: 0,
          yName: 'regional mean precipitation (mm/day)', xName: 'regional mean temperature (K)',
          cross: mamTempCross, dots: mamTempDots },
        { tag: 'd', title: 'MAM Eastern Africa delta Pr against delta T',
          grid: { left: 588, top: 416, width: 429, height: 238 },
          x: [0, 11], y: [-20, 60, 20, 4], yDigits: 0,
          yName: 'regional precipitation change (%)', xName: 'regional temperature change (K)',
          cross: mamDeltaCross, dots: null }
      ];

      var line = { onZero: false, lineStyle: { color: '#000', width: 1.2 } };
      var tickStyle = { color: '#000', width: 1 };
      var labelFont = { color: '#000', fontFamily: serif, fontSize: 18.5 };

      var grids = [], xAxes = [], yAxes = [], series = [], texts = [];
      panels.forEach(function (p, i) {
        grids.push(p.grid);
        ['bottom', 'top'].forEach(function (pos) {
          // major ticks (nice interval 2) and labels
          xAxes.push({
            gridIndex: i, type: 'value', position: pos, min: p.x[0], max: p.x[1], splitNumber: 6,
            axisLine: line, splitLine: { show: false },
            axisTick: { inside: true, length: 6, lineStyle: tickStyle },
            axisLabel: Object.assign({ show: pos === 'bottom', margin: 11,
              showMinLabel: p.x[0] % 2 === 0, showMaxLabel: p.x[1] % 2 === 0 }, labelFont),
            name: pos === 'bottom' ? p.xName : '', nameLocation: 'middle', nameGap: 38,
            nameTextStyle: labelFont
          });
          // minor ticks every 0.5
          xAxes.push({
            gridIndex: i, type: 'value', position: pos, min: p.x[0], max: p.x[1], interval: 0.5,
            axisLine: line, splitLine: { show: false }, axisLabel: { show: false },
            axisTick: { inside: true, length: 3, lineStyle: tickStyle }
          });
        });
        ['left', 'right'].forEach(function (pos) {
          yAxes.push({
            gridIndex: i, type: 'value', position: pos, min: p.y[0], max: p.y[1], interval: p.y[2],
            axisLine: line, splitLine: { show: false },
            axisTick: { inside: true, length: 8, lineStyle: tickStyle },
            minorTick: { show: true, splitNumber: p.y[3], length: 4, lineStyle: tickStyle },
            axisLabel: Object.assign({ show: pos === 'left', margin: 8,
              formatter: function (v) { return v.toFixed(p.yDigits).replace('-', '\u2212'); } }, labelFont),
            name: pos === 'left' ? p.yName : '', nameLocation: 'middle', nameRotate: 90,
            nameGap: p.tag === 'a' || p.tag === 'b' ? 37 : 40, nameTextStyle: labelFont
          });
        });
        series.push({
          type: 'scatter', xAxisIndex: i * 4, yAxisIndex: i * 2, data: p.cross,
          symbol: crossPath, symbolSize: 10, itemStyle: { color: '#000' }, silent: true
        });
        if (p.dots) {
          series.push({
            type: 'scatter', xAxisIndex: i * 4, yAxisIndex: i * 2, data: p.dots,
            symbol: 'circle', symbolSize: 3, itemStyle: { color: '#000' }, silent: true
          });
        }
        var cx = p.grid.left + p.grid.width / 2;
        var top = p.grid.top;
        texts.push({
          type: 'text', x: cx, y: top - 22,
          style: { text: p.title, fill: '#000', font: '18.5px ' + serif, align: 'center', verticalAlign: 'middle' }
        });
        texts.push({
          type: 'text', x: p.grid.left - 60, y: top - 49,
          style: {
            text: '{n|(}{i|' + p.tag + '}{n|)}', verticalAlign: 'middle', fill: '#000',
            rich: {
              n: { fontFamily: serif, fontSize: 22, fill: '#000' },
              i: { fontFamily: serif, fontSize: 22, fontStyle: 'italic', fill: '#000' }
            }
          }
        });
      });

      var chart = echarts.init(document.getElementById('main'));
      chart.setOption({
        animation: false,
        backgroundColor: '#fff',
        grid: grids,
        xAxis: xAxes,
        yAxis: yAxes,
        series: series,
        graphic: texts
      });
    </script>
  </body>
</html>
